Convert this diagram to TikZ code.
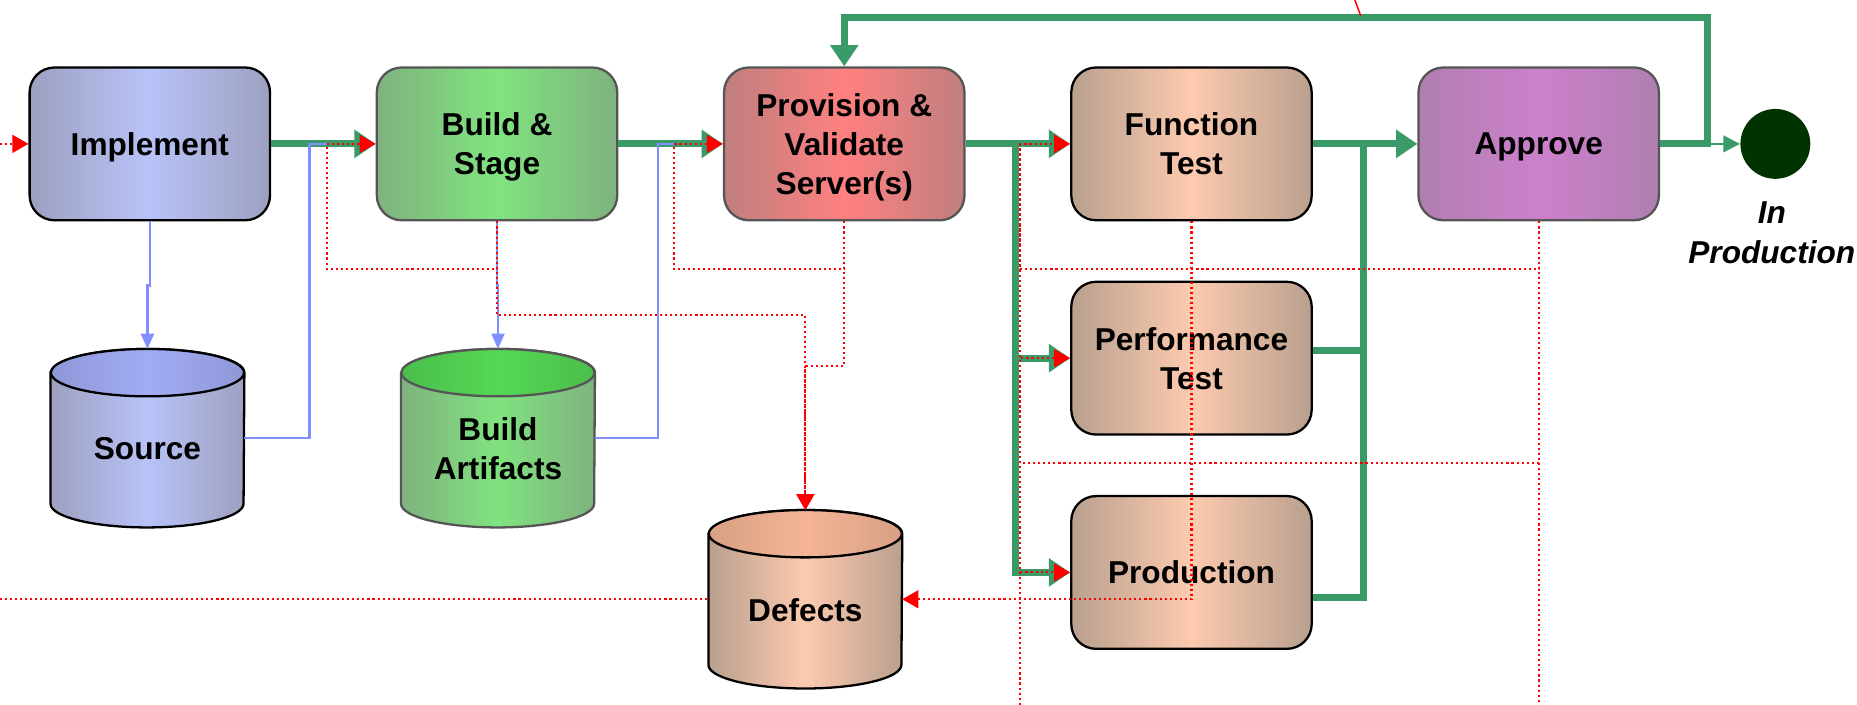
\documentclass[tikz,border=0pt]{standalone}
\usepackage{fontspec}
\setmainfont{Liberation Sans}
\usetikzlibrary{arrows.meta,positioning,calc}
\definecolor{implE}{HTML}{9DA0BF}
\definecolor{implM}{HTML}{B8C3F9}
\definecolor{implT}{HTML}{A2ACF4}
\definecolor{implD}{HTML}{000000}
\definecolor{buildE}{HTML}{7FB27F}
\definecolor{buildM}{HTML}{80E37F}
\definecolor{buildT}{HTML}{55D855}
\definecolor{buildD}{HTML}{555555}
\definecolor{provE}{HTML}{BF7F7F}
\definecolor{provM}{HTML}{FF8080}
\definecolor{provD}{HTML}{555555}
\definecolor{testE}{HTML}{B8A08E}
\definecolor{testM}{HTML}{FDCAAF}
\definecolor{testT}{HTML}{F5B596}
\definecolor{testD}{HTML}{000000}
\definecolor{apprE}{HTML}{B07FB0}
\definecolor{apprM}{HTML}{CC80CC}
\definecolor{apprD}{HTML}{555555}
\definecolor{flowG}{HTML}{3A9B69}
\definecolor{doneC}{HTML}{003300}
\definecolor{storeB}{HTML}{7F8FFF}
\newcommand{\boxfont}{\fontsize{15.2}{18.8}\selectfont\bfseries}
\tikzset{
  stagebox/.style={rectangle, rounded corners=0.42cm, draw=#1D, line width=1.1pt,
                   left color=#1E, right color=#1E, middle color=#1M, text depth=0pt,
                   align=center, font=\boxfont, minimum width=4.06cm, minimum height=2.58cm},
  dbshape/.style={rectangle, minimum width=3.26cm, minimum height=3cm, inner sep=0},
  flow/.style={line width=0.12cm, draw=flowG},
  flowarr/.style={flow, -{Triangle[length=0.36cm, width=0.46cm]}},
  donearr/.style={line width=0.035cm, draw=flowG, -{Triangle[length=0.28cm, width=0.28cm]}},
  store/.style={line width=0.04cm, draw=storeB},
  storearr/.style={store, -{Triangle[length=0.26cm, width=0.22cm]}},
  rej/.style={line width=0.035cm, draw=red, dash pattern=on 0.035cm off 0.05cm},
  rejarr/.style={rej, -{Triangle[length=0.27cm, width=0.30cm]}},
}
% cylinder: name, position, colour prefix, text
\newcommand{\dbcyl}[4]{%
  \node[dbshape] (#1) at (#2) {};
  \path[draw=#3D, line width=1.1pt, left color=#3E, right color=#3E, middle color=#3M]
    ([yshift=-4mm]#1.north west) -- ([yshift=4mm]#1.south west)
    arc[start angle=180, end angle=360, x radius=16.3mm, y radius=4mm]
    -- ([yshift=-4mm]#1.north east)
    arc[start angle=0, end angle=180, x radius=16.3mm, y radius=4mm] -- cycle;
  \path[draw=#3D, line width=1.1pt, left color=#3T!88!black, right color=#3T!88!black, middle color=#3T]
    ([yshift=-4mm]#1.north) ellipse [x radius=16.3mm, y radius=4mm];
  \node[font=\boxfont, align=center] at ([yshift=-1.8mm]#1.center) {#4};
}

\begin{document}
\begin{tikzpicture}
  \useasboundingbox (0,0) rectangle (31.36,-11.9);
  % stages
  \node[stagebox=impl] (impl) at (2.53,-2.43) {Implement};
  \node[stagebox=build, right=1.765cm of impl] (build) {Build \&\\Stage};
  \node[stagebox=prov, right=1.765cm of build] (prov) {Provision \&\\Validate\\Server(s)};
  \node[stagebox=test, right=1.765cm of prov] (ft) {Function\\Test};
  \node[stagebox=appr, right=1.765cm of ft] (appr) {Approve};
  \node[stagebox=test, below=1.0cm of ft] (perf) {Performance\\Test};
  \node[stagebox=test, below=1.0cm of perf] (prod) {Production};
  \node[circle, fill=doneC, minimum size=1.18cm, inner sep=0, right=1.35cm of appr] (done) {};
  \node[font=\boxfont\itshape, align=center, inner sep=0, below=0.38cm of done, xshift=-0.06cm] (donelbl) {In\\Production};
  % stores
  \dbcyl{src}{2.49,-7.40}{impl}{Source}
  \dbcyl{art}{8.41,-7.40}{build}{Build\\Artifacts}
  \dbcyl{defects}{13.6,-10.12}{test}{Defects}
  \coordinate (inL) at (0,-2.43);
  \coordinate (inD) at (0,-10.12);
  \coordinate (bot) at (0,-11.9);
  \coordinate (loop) at ([xshift=0.8cm]appr.east);
  \coordinate (fork) at ([xshift=-0.92cm]ft.west);
  \coordinate (join) at ([xshift=0.86cm]ft.east);
  \coordinate (retest) at ([xshift=-0.84cm]ft.west);
  \coordinate (ctop) at (22.88,0);
  \coordinate (cend) at (22.98,-0.27);
  % main flow
  \draw[flowarr] (impl.east) -- (build.west);
  \draw[flowarr] (build.east) -- (prov.west);
  \draw[flowarr] (prov.east) -- (ft.west);
  \draw[flowarr] (ft.east) -- (appr.west);
  \draw[flowarr] (fork) |- (perf.west);
  \draw[flowarr] (fork) |- (prod.west);
  \draw[flow] ([yshift=0.13cm]perf.east) -| (join);
  \draw[flow] ([yshift=-0.43cm]prod.east) -| (join);
  \draw[flowarr] (appr.east) -- (loop) -- ([yshift=2.13cm]loop) -| (prov.north);
  \draw[donearr] (loop) -- (done);
  % stores
  \draw[storearr] (impl.south) -- ++(0,-1.08) -| (src.north);
  \draw[storearr] (build.south) -- ++(0,-1.08) -| (art.north);
  \draw[store] (src.east) -| ([xshift=-1.12cm]build.west) -- ([xshift=-0.82cm]build.west);
  \draw[store] (art.east) -| ([xshift=-1.1cm]prov.west) -- ([xshift=-0.82cm]prov.west);
  % rework
  \draw[rejarr] (inL) -- (impl.west);
  \draw[rej] (inD) -- (defects.west);
  \draw[rejarr] (build.south) -- ++(0,-0.8) -| ([xshift=-0.82cm]build.west) -- (build.west);
  \draw[rejarr] (build.south) -- ++(0,-1.58) -| (defects.north);
  \draw[rejarr] (prov.south) -- ++(0,-0.8) -| ([xshift=-0.82cm]prov.west) -- (prov.west);
  \draw[rejarr] (prov.south) -- ++(0,-2.44) -| (defects.north);
  \draw[rejarr] (ft.south) |- (defects.east);
  \draw[rejarr] (appr.south) -- ++(0,-0.8) -| (retest) -- (ft.west);
  \draw[rejarr] (appr.south) -- ++(0,-4.08) -| ([xshift=-0.84cm]perf.west) -- (perf.west);
  \draw[rejarr] ([xshift=-0.84cm]prod.west) -- (prod.west);
  \draw[rej] (retest) -- (retest |- bot);
  \draw[rej] (appr.south) -- (appr.south |- bot);
  \draw[red, line width=0.7pt] (ctop) -- (cend);
\end{tikzpicture}
\end{document}
